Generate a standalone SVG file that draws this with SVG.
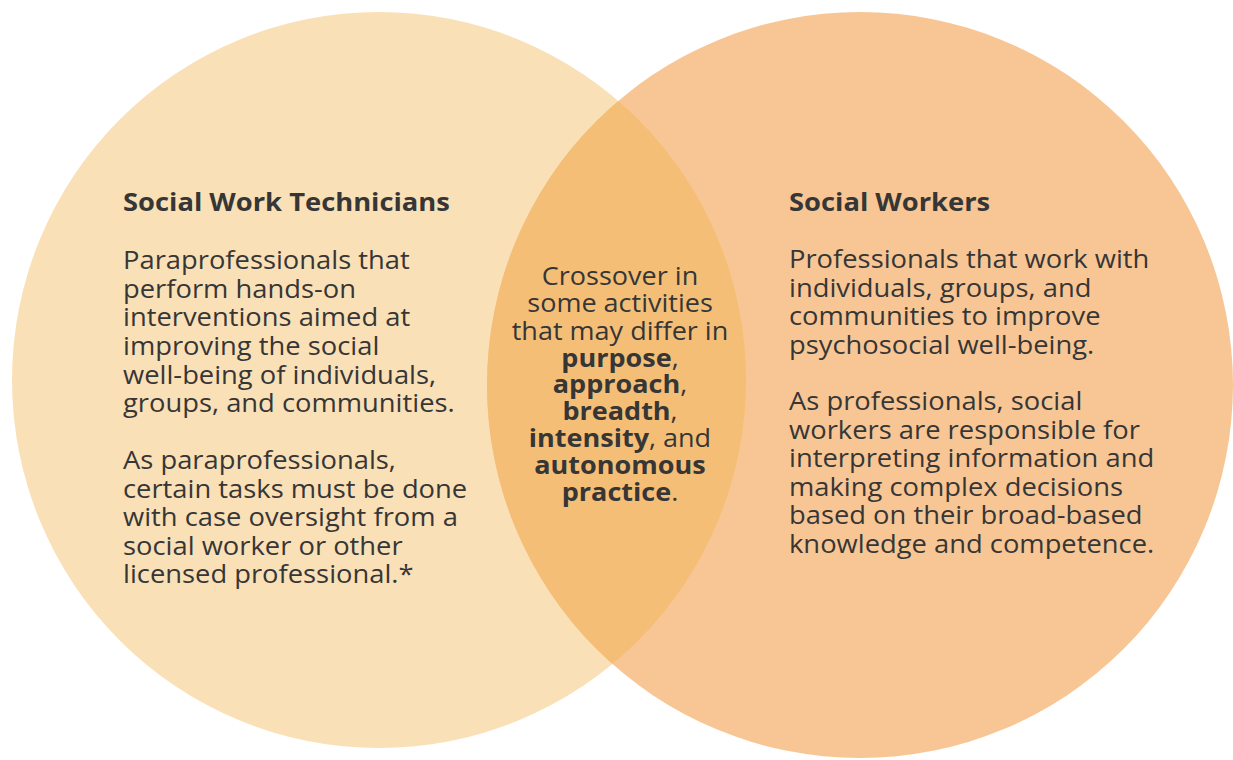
<svg xmlns="http://www.w3.org/2000/svg" width="1233" height="760" viewBox="0 0 1233 760">
<defs>
<style>
.t{font-family:"Open Sans","Noto Sans","Liberation Sans",sans-serif;fill:#363636;font-size:25px}
.h{font-weight:bold}
.c{font-size:24.7px;text-anchor:middle}
.b{font-weight:bold}
</style>
<clipPath id="clipLeft"><ellipse cx="379" cy="380" rx="367" ry="368"/></clipPath>
</defs>
<rect width="1233" height="760" fill="#ffffff"/>
<g id="technicians">
<ellipse cx="379" cy="380" rx="367" ry="368" fill="#FAE0B6"/>
</g>
<g id="workers">
<circle cx="860" cy="385" r="373" fill="#F8C694"/>
</g>
<g id="overlap">
<circle cx="860" cy="385" r="373" fill="#F5BE76" clip-path="url(#clipLeft)"/>
</g>
<g id="technicians-text" class="t" transform="translate(123,0) scale(1.094,1)">
<text x="0" y="211" class="t h">Social Work Technicians</text>
<text x="0" y="269" class="t">Paraprofessionals that</text>
<text x="0" y="297.7" class="t">perform hands-on</text>
<text x="0" y="326.3" class="t">interventions aimed at</text>
<text x="0" y="355" class="t">improving the social</text>
<text x="0" y="383.7" class="t">well-being of individuals,</text>
<text x="0" y="412.3" class="t">groups, and communities.</text>
<text x="0" y="469.3" class="t">As paraprofessionals,</text>
<text x="0" y="497.8" class="t">certain tasks must be done</text>
<text x="0" y="526.3" class="t">with case oversight from a</text>
<text x="0" y="554.8" class="t">social worker or other</text>
<text x="0" y="583.3" class="t">licensed professional.*</text>
</g>
<g id="workers-text" transform="translate(789,0) scale(1.094,1)">
<text x="0" y="211" class="t h">Social Workers</text>
<text x="0" y="268" class="t">Professionals that work with</text>
<text x="0" y="296.7" class="t">individuals, groups, and</text>
<text x="0" y="325.3" class="t">communities to improve</text>
<text x="0" y="354" class="t">psychosocial well-being.</text>
<text x="0" y="410.5" class="t">As professionals, social</text>
<text x="0" y="439" class="t">workers are responsible for</text>
<text x="0" y="467.5" class="t">interpreting information and</text>
<text x="0" y="496" class="t">making complex decisions</text>
<text x="0" y="524.5" class="t">based on their broad-based</text>
<text x="0" y="553" class="t">knowledge and competence.</text>
</g>
<g id="overlap-text" transform="translate(620,0) scale(1.094,1)">
<text x="0" y="285" class="t c">Crossover in</text>
<text x="0" y="312.5" class="t c">some activities</text>
<text x="0" y="340" class="t c">that may differ in</text>
<text x="0" y="367" class="t c"><tspan class="b">purpose</tspan>,</text>
<text x="0" y="393.5" class="t c"><tspan class="b">approach</tspan>,</text>
<text x="0" y="420.5" class="t c"><tspan class="b">breadth</tspan>,</text>
<text x="0" y="447" class="t c"><tspan class="b">intensity</tspan>, and</text>
<text x="0" y="474" class="t c"><tspan class="b">autonomous</tspan></text>
<text x="0" y="501" class="t c"><tspan class="b">practice</tspan>.</text>
</g>
</svg>
